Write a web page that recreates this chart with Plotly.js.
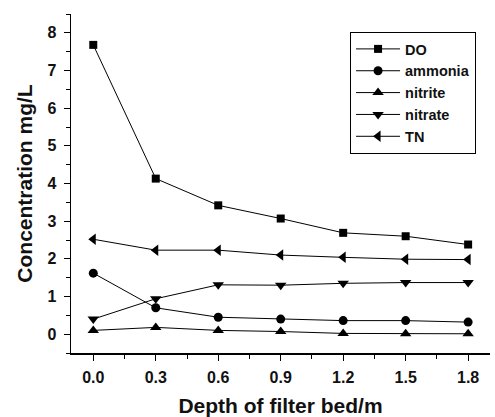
<!DOCTYPE html>
<html>
<head>
<meta charset="utf-8">
<script src="https://cdn.plot.ly/plotly-3.0.1.min.js"></script>
<style>html,body{margin:0;padding:0;background:#fff;}#chart{width:495px;height:417px;}</style>
</head>
<body>
<div id="chart"></div>
<script>
const depth = [0.0, 0.3, 0.6, 0.9, 1.2, 1.5, 1.8];
const doVals = [7.68, 4.13, 3.42, 3.07, 2.69, 2.60, 2.38];
const ammonia = [1.62, 0.70, 0.45, 0.40, 0.36, 0.36, 0.32];
const nitrite = [0.10, 0.18, 0.10, 0.07, 0.02, 0.01, 0.01];
const nitrate = [0.40, 0.94, 1.31, 1.30, 1.35, 1.37, 1.37];
const tn = [2.52, 2.23, 2.23, 2.10, 2.04, 1.99, 1.98];
const xTicks = [0.0, 0.3, 0.6, 0.9, 1.2, 1.5, 1.8];
const xTickText = ['0.0', '0.3', '0.6', '0.9', '1.2', '1.5', '1.8'];
const yTicks = [0, 1, 2, 3, 4, 5, 6, 7, 8];

function tr(name, y, symbol, size) {
  return {
    x: depth, y: y, name: name, type: 'scatter', mode: 'lines+markers',
    line: {color: '#000', width: 1},
    marker: {symbol: symbol, size: size, color: '#000'}
  };
}
const data = [
  tr('DO', doVals, 'square', 8),
  tr('ammonia', ammonia, 'circle', 9),
  tr('nitrite', nitrite, 'triangle-up', 10),
  tr('nitrate', nitrate, 'triangle-down', 10),
  tr('TN', tn, 'triangle-left', 10)
];
const fam = 'Liberation Sans, Arial, sans-serif';
const layout = {
  width: 495, height: 417,
  margin: {l: 71, r: 5, t: 14, b: 64},
  paper_bgcolor: '#fff', plot_bgcolor: '#fff',
  showlegend: true,
  font: {family: fam, color: '#111'},
  legend: {
    x: 0.666, y: 0.947, xanchor: 'left', yanchor: 'top',
    bordercolor: '#000', borderwidth: 1, bgcolor: '#fff',
    font: {family: fam, size: 14.5, color: '#111', weight: 'bold'},
    tracegroupgap: 0, itemwidth: 44
  },
  xaxis: {
    range: [-0.107, 1.905], showgrid: false, zeroline: false,
    showline: true, linecolor: '#000', linewidth: 1.5,
    ticks: 'outside', ticklen: 6, tickcolor: '#000', tickwidth: 1,
    tickvals: xTicks, ticktext: xTickText,
    tickfont: {family: fam, size: 16, color: '#111', weight: 'bold'},
    ticklabelstandoff: 3,
    minor: {dtick: 0.15, tick0: 0, ticks: 'outside', ticklen: 4, tickcolor: '#000', showgrid: false},
    title: {text: 'Depth of filter bed/m', font: {family: fam, size: 21, color: '#111', weight: 'bold'}, standoff: 15}
  },
  yaxis: {
    range: [-0.5, 8.5], showgrid: false, zeroline: false,
    showline: true, linecolor: '#000', linewidth: 1.5,
    ticks: 'outside', ticklen: 6, tickcolor: '#000', tickwidth: 1,
    tickvals: yTicks,
    tickfont: {family: fam, size: 16, color: '#111', weight: 'bold'},
    ticklabelstandoff: 4,
    minor: {dtick: 0.5, tick0: 0, ticks: 'outside', ticklen: 4, tickcolor: '#000', showgrid: false},
    title: {text: 'Concentration mg/L', font: {family: fam, size: 21, color: '#111', weight: 'bold'}, standoff: 9}
  }
};
Plotly.newPlot('chart', data, layout, {displayModeBar: false, staticPlot: true});
</script>
</body>
</html>
